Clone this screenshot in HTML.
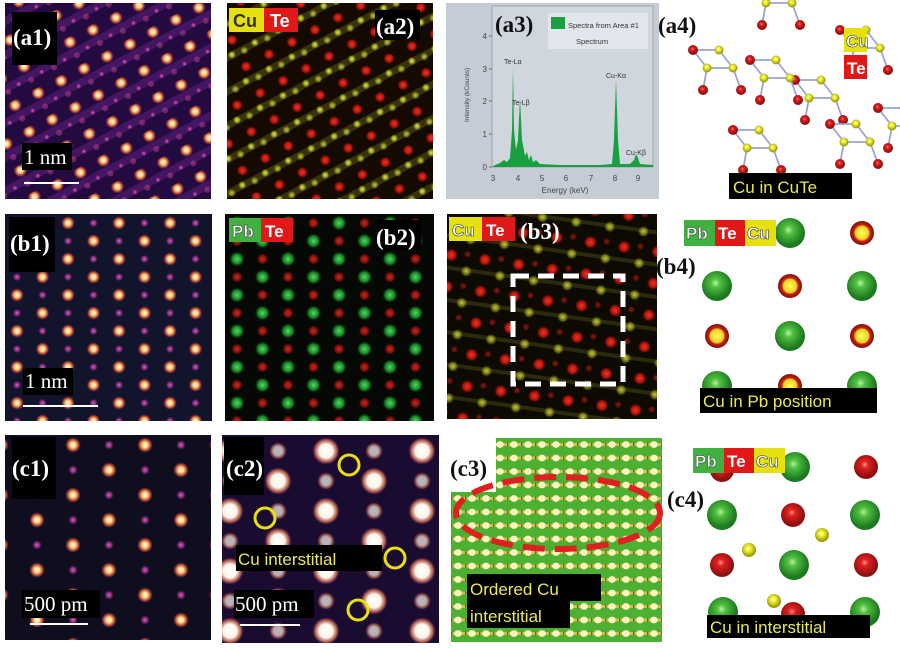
<!DOCTYPE html>
<html><head><meta charset="utf-8"><style>
html,body{margin:0;padding:0;background:#fff;width:900px;height:648px;overflow:hidden}
svg{display:block}
text{font-family:"Liberation Sans",sans-serif}
.lab{font-family:"Liberation Serif",serif;font-weight:bold;font-size:23px;fill:#fff}
.labk{font-family:"Liberation Serif",serif;font-weight:bold;font-size:23px;fill:#111}
.sc{font-family:"Liberation Serif",serif;font-size:21px;fill:#fff}
.yl{font-size:17px;fill:#e8e85a}
</style></head><body>
<svg width="900" height="648" viewBox="0 0 900 648" xmlns="http://www.w3.org/2000/svg">
<defs>
<radialGradient id="hot"><stop offset="0" stop-color="#fffbe8"/><stop offset="0.35" stop-color="#ffd58a"/><stop offset="0.7" stop-color="#e0572a" stop-opacity="0.8"/><stop offset="1" stop-color="#6a1a70" stop-opacity="0"/></radialGradient>
<radialGradient id="dim"><stop offset="0" stop-color="#e060c0"/><stop offset="0.6" stop-color="#a03090" stop-opacity="0.7"/><stop offset="1" stop-color="#401050" stop-opacity="0"/></radialGradient>
<radialGradient id="red"><stop offset="0" stop-color="#ff3020"/><stop offset="0.6" stop-color="#d01810" stop-opacity="0.8"/><stop offset="1" stop-color="#400000" stop-opacity="0"/></radialGradient>
<radialGradient id="grn"><stop offset="0" stop-color="#50e060"/><stop offset="0.6" stop-color="#20a030" stop-opacity="0.8"/><stop offset="1" stop-color="#003000" stop-opacity="0"/></radialGradient>
<radialGradient id="yel"><stop offset="0" stop-color="#f0f050"/><stop offset="0.6" stop-color="#b0b020" stop-opacity="0.7"/><stop offset="1" stop-color="#303000" stop-opacity="0"/></radialGradient>
<radialGradient id="wht"><stop offset="0" stop-color="#fff"/><stop offset="0.5" stop-color="#fff4e8"/><stop offset="0.8" stop-color="#e07050" stop-opacity="0.7"/><stop offset="1" stop-color="#501050" stop-opacity="0"/></radialGradient>
<radialGradient id="sg" cx="0.45" cy="0.4"><stop offset="0" stop-color="#b8f0a0"/><stop offset="0.3" stop-color="#50c040"/><stop offset="1" stop-color="#1e7a20"/></radialGradient>
<radialGradient id="sr" cx="0.45" cy="0.4"><stop offset="0" stop-color="#ff9080"/><stop offset="0.3" stop-color="#e02020"/><stop offset="1" stop-color="#901010"/></radialGradient>
<radialGradient id="sy" cx="0.45" cy="0.4"><stop offset="0" stop-color="#ffffb0"/><stop offset="0.4" stop-color="#eeee30"/><stop offset="1" stop-color="#a0a010"/></radialGradient>
<radialGradient id="sry"><stop offset="0" stop-color="#ffff60"/><stop offset="0.55" stop-color="#f0d020"/><stop offset="0.7" stop-color="#c02010"/><stop offset="1" stop-color="#801010"/></radialGradient>

<pattern id="pa1" width="26" height="30" patternUnits="userSpaceOnUse" patternTransform="translate(5,3) rotate(-28)">
<rect width="26" height="30" fill="#230a40"/><rect y="12" width="26" height="8" fill="#5a1e78" opacity="0.6"/>
<circle cx="13" cy="5" r="7" fill="url(#hot)"/><circle cx="0" cy="18" r="3" fill="url(#dim)"/><circle cx="26" cy="18" r="3" fill="url(#dim)"/><circle cx="13" cy="20" r="3" fill="#c04090" opacity=".5"/>
</pattern>
<pattern id="pa2" width="26" height="30" patternUnits="userSpaceOnUse" patternTransform="translate(227,3) rotate(-28)">
<rect width="26" height="30" fill="#140a02"/><rect y="15" width="26" height="7" fill="#5a5a18" opacity="0.5"/>
<circle cx="13" cy="5" r="6" fill="url(#red)"/><circle cx="6" cy="18" r="4.5" fill="url(#yel)"/><circle cx="19" cy="20" r="4.5" fill="url(#yel)" opacity=".8"/>
</pattern>
<pattern id="pb1" width="51" height="36" patternUnits="userSpaceOnUse" patternTransform="translate(5,214)">
<rect width="51" height="36" fill="#12142c"/>
<circle cx="12" cy="9" r="7" fill="url(#hot)"/><circle cx="12" cy="27" r="4.5" fill="url(#dim)"/>
<circle cx="37.5" cy="27" r="7" fill="url(#hot)"/><circle cx="37.5" cy="9" r="4.5" fill="url(#dim)"/>
</pattern>
<pattern id="pb2" width="51" height="36" patternUnits="userSpaceOnUse" patternTransform="translate(225,214)">
<rect width="51" height="36" fill="#050805"/>
<circle cx="12" cy="9" r="8" fill="url(#grn)"/><circle cx="12" cy="27" r="6" fill="url(#red)" opacity=".8"/>
<circle cx="37.5" cy="9" r="6" fill="url(#red)" opacity=".8"/><circle cx="37.5" cy="27" r="8" fill="url(#grn)"/>
</pattern>
<pattern id="pb3" width="34" height="32" patternUnits="userSpaceOnUse" patternTransform="translate(447,214) rotate(8)">
<rect width="34" height="32" fill="#0c0a02"/><rect x="0" y="19" width="34" height="4" fill="#5a5a1a" opacity=".4"/>
<circle cx="10" cy="8" r="7" fill="url(#red)"/><circle cx="27" cy="22" r="6" fill="url(#yel)" opacity=".8"/><circle cx="26" cy="5" r="4" fill="url(#red)" opacity=".5"/>
</pattern>
<pattern id="pc1" width="72" height="50" patternUnits="userSpaceOnUse" patternTransform="translate(19,420)">
<rect width="72" height="50" fill="#0e0e1e"/>
<circle cx="18" cy="0" r="8" fill="url(#hot)"/><circle cx="18" cy="50" r="8" fill="url(#hot)"/><circle cx="18" cy="25" r="5" fill="url(#dim)"/>
<circle cx="54" cy="25" r="8" fill="url(#hot)"/><circle cx="54" cy="0" r="5" fill="url(#dim)"/><circle cx="54" cy="50" r="5" fill="url(#dim)"/>
</pattern>
<pattern id="pc2" width="96" height="60" patternUnits="userSpaceOnUse" patternTransform="translate(206,436)">
<rect width="96" height="60" fill="#1a0c30"/>
<circle cx="24" cy="15" r="14" fill="url(#wht)"/><circle cx="72" cy="45" r="14" fill="url(#wht)"/><circle cx="24" cy="45" r="9" fill="url(#wht)" opacity=".7"/><circle cx="72" cy="15" r="9" fill="url(#wht)" opacity=".7"/>
</pattern>
<pattern id="pc3" width="14" height="13.5" patternUnits="userSpaceOnUse" patternTransform="translate(451,438)">
<rect width="14" height="13.5" fill="#4cb030"/><rect y="5" width="14" height="3" fill="#c8c050"/>
<ellipse cx="7" cy="6.5" rx="3.8" ry="3.4" fill="#fff4c0"/><ellipse cx="0" cy="6.5" rx="1.5" ry="2" fill="#806020"/>
</pattern>
<g id="mol" stroke="#9aa4d0" stroke-width="1.8">
<line x1="0" y1="0" x2="26" y2="0"/><line x1="26" y1="0" x2="40" y2="18"/><line x1="40" y1="18" x2="14" y2="18"/><line x1="14" y1="18" x2="0" y2="0"/><line x1="14" y1="18" x2="10" y2="40"/><line x1="40" y1="18" x2="48" y2="40"/>
<circle cx="0" cy="0" r="5" fill="url(#sr)" stroke="none"/><circle cx="10" cy="40" r="5" fill="url(#sr)" stroke="none"/><circle cx="48" cy="40" r="5" fill="url(#sr)" stroke="none"/>
<circle cx="26" cy="0" r="4.5" fill="url(#sy)" stroke="none"/><circle cx="14" cy="18" r="4.5" fill="url(#sy)" stroke="none"/><circle cx="40" cy="18" r="4.5" fill="url(#sy)" stroke="none"/>
</g>
</defs>

<!-- Row a -->
<rect x="5" y="3" width="206" height="196" fill="url(#pa1)"/>
<rect x="12" y="12" width="45" height="53" fill="#000"/><text class="lab" x="13" y="45">(a1)</text>
<rect x="22" y="143" width="50" height="27" fill="#000"/><text class="sc" x="24" y="164">1 nm</text>
<rect x="24" y="182" width="55" height="2" fill="#fff"/>

<rect x="227" y="3" width="206" height="196" fill="url(#pa2)"/>
<rect x="229" y="8" width="35" height="24" fill="#e6e010"/><text x="233" y="27" font-size="18" font-weight="bold" fill="#333">Cu</text>
<rect x="264" y="8" width="34" height="24" fill="#e01818"/><text x="270" y="27" font-size="18" font-weight="bold" fill="#fff">Te</text>
<rect x="375" y="10" width="45" height="30" fill="#000"/><text class="lab" x="376" y="34">(a2)</text>

<rect x="446" y="3" width="213" height="196" fill="#c6ccd6"/>
<rect x="492" y="6" width="161" height="161" fill="#d0d6de" stroke="#888" stroke-width=".6"/>
<rect x="548" y="13" width="100" height="36" fill="#e2e6ec"/>
<rect x="551" y="17" width="14" height="12" fill="#18a040"/>
<text x="568" y="28" font-size="7.5" fill="#333">Spectra from Area #1</text>
<text x="576" y="44" font-size="7.5" fill="#333">Spectrum</text>
<text class="labk" x="495" y="32" font-size="24">(a3)</text>
<g font-size="8" fill="#444" text-anchor="end">
<text x="487" y="170">0</text><text x="487" y="137">1</text><text x="487" y="104">2</text><text x="487" y="72">3</text><text x="487" y="39">4</text></g>
<g stroke="#555" stroke-width=".8"><line x1="489" y1="167" x2="492" y2="167"/><line x1="489" y1="134" x2="492" y2="134"/><line x1="489" y1="101" x2="492" y2="101"/><line x1="489" y1="69" x2="492" y2="69"/><line x1="489" y1="36" x2="492" y2="36"/></g>
<g font-size="8" fill="#444" text-anchor="middle"><text x="493" y="181">3</text><text x="518" y="181">4</text><text x="542" y="181">5</text><text x="566" y="181">6</text><text x="591" y="181">7</text><text x="615" y="181">8</text><text x="638" y="181">9</text></g>
<text x="565" y="193" font-size="8" fill="#444" text-anchor="middle">Energy (keV)</text>
<text x="0" y="0" font-size="6.5" fill="#444" transform="translate(469,122) rotate(-90)">Intensity (kCounts)</text>
<path d="M493,166 L500,163 L504,160 L507,162 L510,158 L512,130 L513,67 L514,130 L516,150 L518,140 L520,98 L522,140 L524,150 L525,156 L527,152 L529,160 L531,155 L533,162 L536,160 L540,164 L560,165 L600,165 L612,164 L614,140 L616,79 L618,140 L620,164 L630,164 L634,160 L636,154 L638,158 L640,164 L653,165 L653,167 L493,167 Z" fill="#18a040"/>
<g font-size="7" fill="#333"><text x="504" y="64">Te-Lα</text><text x="512" y="105">Te-Lβ</text><text x="606" y="78">Cu-Kα</text><text x="626" y="155">Cu-Kβ</text></g>

<text class="labk" x="658" y="33">(a4)</text>
<use href="#mol" x="693" y="50"/>
<use href="#mol" x="752" y="-15"/>
<use href="#mol" x="733" y="130"/>
<use href="#mol" x="795" y="80"/>
<use href="#mol" x="840" y="30"/>
<use href="#mol" x="830" y="124"/>
<use href="#mol" x="878" y="108"/>
<use href="#mol" x="750" y="60"/>
<rect x="844" y="28" width="23" height="24" fill="#e6e010"/><text x="846" y="47" font-size="17" font-weight="bold" fill="#fff" stroke="#333" stroke-width=".6">Cu</text>
<rect x="844" y="55" width="23" height="24" fill="#e01818"/><text x="847" y="74" font-size="17" font-weight="bold" fill="#fff">Te</text>
<rect x="729" y="173" width="123" height="26" fill="#000"/><text class="yl" x="733" y="193" font-size="18">Cu  in CuTe</text>

<!-- Row b -->
<rect x="5" y="214" width="207" height="207" fill="url(#pb1)"/>
<rect x="9" y="217" width="46" height="55" fill="#000"/><text class="lab" x="10" y="251">(b1)</text>
<rect x="23" y="368" width="50" height="27" fill="#000"/><text class="sc" x="25" y="388">1 nm</text>
<rect x="23" y="405" width="75" height="2" fill="#fff"/>

<rect x="225" y="214" width="209" height="207" fill="url(#pb2)"/>
<rect x="229" y="218" width="32" height="24" fill="#40b040"/><text x="232" y="237" font-size="17" font-weight="bold" fill="#fff" stroke="#333" stroke-width=".5">Pb</text>
<rect x="261" y="218" width="32" height="24" fill="#e01818"/><text x="265" y="237" font-size="17" font-weight="bold" fill="#fff">Te</text>
<rect x="377" y="220" width="44" height="30" fill="#000"/><text class="lab" x="376" y="245">(b2)</text>

<rect x="447" y="214" width="210" height="205" fill="url(#pb3)"/>
<rect x="449" y="217" width="33" height="24" fill="#e6e010"/><text x="452" y="236" font-size="17" font-weight="bold" fill="#fff" stroke="#333" stroke-width=".6">Cu</text>
<rect x="482" y="217" width="33" height="24" fill="#e01818"/><text x="486" y="236" font-size="17" font-weight="bold" fill="#fff">Te</text>
<text class="lab" x="520" y="239">(b3)</text>
<rect x="513" y="276" width="110" height="108" fill="none" stroke="#fff" stroke-width="5" stroke-dasharray="16,9"/>

<circle cx="790" cy="233" r="15" fill="url(#sg)"/><circle cx="862" cy="233" r="12" fill="url(#sry)"/>
<circle cx="717" cy="286" r="15" fill="url(#sg)"/><circle cx="790" cy="286" r="12" fill="url(#sry)"/><circle cx="862" cy="286" r="15" fill="url(#sg)"/>
<circle cx="717" cy="336" r="12" fill="url(#sry)"/><circle cx="790" cy="336" r="15" fill="url(#sg)"/><circle cx="862" cy="336" r="12" fill="url(#sry)"/>
<circle cx="717" cy="386" r="15" fill="url(#sg)"/><circle cx="790" cy="386" r="12" fill="url(#sry)"/><circle cx="862" cy="386" r="15" fill="url(#sg)"/>
<rect x="684" y="220" width="31" height="26" fill="#40b040"/><text x="686" y="239" font-size="17" font-weight="bold" fill="#fff" stroke="#333" stroke-width=".5">Pb</text>
<rect x="715" y="220" width="30" height="26" fill="#e01818"/><text x="718" y="239" font-size="17" font-weight="bold" fill="#fff">Te</text>
<rect x="745" y="220" width="31" height="26" fill="#e6e010"/><text x="747" y="239" font-size="17" font-weight="bold" fill="#fff" stroke="#333" stroke-width=".6">Cu</text>
<text class="labk" x="656" y="274">(b4)</text>
<rect x="700" y="388" width="177" height="25" fill="#000"/><text class="yl" x="703" y="407" font-size="18">Cu  in Pb position</text>

<!-- Row c -->
<rect x="5" y="435" width="206" height="205" fill="url(#pc1)"/>
<rect x="12" y="437" width="44" height="62" fill="#000"/><text class="lab" x="12" y="476">(c1)</text>
<rect x="22" y="590" width="78" height="28" fill="#000"/><text class="sc" x="24" y="611">500 pm</text>
<rect x="30" y="623" width="58" height="2" fill="#fff"/>

<rect x="222" y="435" width="217" height="208" fill="url(#pc2)"/>
<rect x="224" y="437" width="40" height="58" fill="#000"/><text class="lab" x="226" y="476">(c2)</text>
<g fill="none" stroke="#e8e010" stroke-width="3"><circle cx="349" cy="465" r="10"/><circle cx="265" cy="518" r="10"/><circle cx="395" cy="558" r="10"/><circle cx="358" cy="610" r="10"/></g>
<rect x="236" y="545" width="146" height="26" fill="#000"/><text class="yl" x="238" y="565" font-size="18">Cu interstitial</text>
<rect x="234" y="590" width="80" height="28" fill="#000"/><text class="sc" x="235" y="611">500 pm</text>
<rect x="240" y="624" width="60" height="2" fill="#fff"/>

<rect x="451" y="438" width="211" height="204" fill="url(#pc3)"/>
<rect x="451" y="438" width="45" height="54" fill="#fff"/><text class="labk" x="450" y="476">(c3)</text>
<ellipse cx="558" cy="513" rx="102" ry="36" fill="none" stroke="#e02020" stroke-width="6" stroke-dasharray="22,10"/>
<rect x="467" y="574" width="134" height="27" fill="#000"/><text class="yl" x="470" y="595" font-size="19">Ordered  Cu</text>
<rect x="467" y="601" width="103" height="27" fill="#000"/><text class="yl" x="470" y="622" font-size="19">interstitial</text>

<circle cx="722" cy="470" r="12" fill="url(#sr)"/>
<circle cx="795" cy="467" r="15" fill="url(#sg)"/><circle cx="866" cy="467" r="12" fill="url(#sr)"/>
<circle cx="722" cy="515" r="15" fill="url(#sg)"/><circle cx="793" cy="515" r="12" fill="url(#sr)"/><circle cx="865" cy="515" r="15" fill="url(#sg)"/>
<circle cx="822" cy="535" r="7" fill="url(#sy)"/><circle cx="749" cy="550" r="7" fill="url(#sy)"/>
<circle cx="722" cy="565" r="12" fill="url(#sr)"/><circle cx="794" cy="565" r="15" fill="url(#sg)"/><circle cx="866" cy="565" r="12" fill="url(#sr)"/>
<circle cx="774" cy="601" r="7" fill="url(#sy)"/>
<circle cx="723" cy="612" r="15" fill="url(#sg)"/><circle cx="793" cy="614" r="12" fill="url(#sr)"/><circle cx="865" cy="612" r="15" fill="url(#sg)"/>
<rect x="693" y="448" width="31" height="25" fill="#40b040"/><text x="695" y="467" font-size="17" font-weight="bold" fill="#fff" stroke="#333" stroke-width=".5">Pb</text>
<rect x="724" y="448" width="30" height="25" fill="#e01818"/><text x="727" y="467" font-size="17" font-weight="bold" fill="#fff">Te</text>
<rect x="754" y="448" width="31" height="25" fill="#e6e010"/><text x="756" y="467" font-size="17" font-weight="bold" fill="#fff" stroke="#333" stroke-width=".6">Cu</text>
<text class="labk" x="667" y="507">(c4)</text>
<rect x="707" y="615" width="163" height="23" fill="#000"/><text class="yl" x="710" y="633" font-size="18">Cu  in interstitial</text>
</svg>
</body></html>
